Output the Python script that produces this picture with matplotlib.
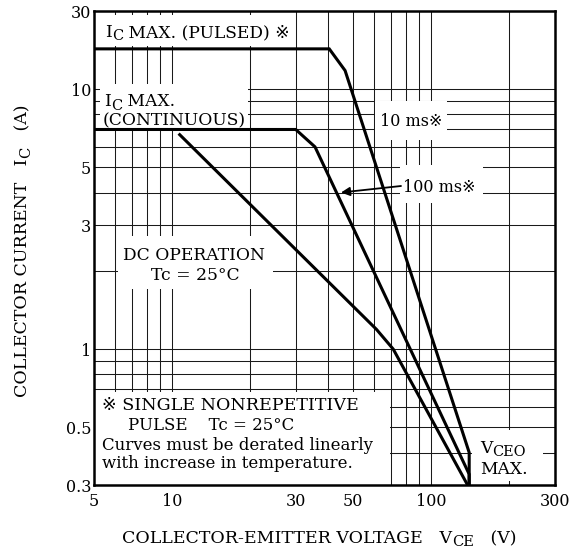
import numpy as np
import matplotlib
matplotlib.use("Agg")
import matplotlib.pyplot as plt
from matplotlib.patches import Rectangle
from matplotlib.ticker import LogLocator, NullFormatter

# --- Data ---
VCE_10MS = [5, 40.4, 46.5, 140, 140]
IC_10MS = [14.3, 14.3, 11.8, 0.40, 0.30]

VCE_100MS = [5, 30, 35.6, 140, 140]
IC_100MS = [7.0, 7.0, 6.0, 0.33, 0.30]

VCE_DC = [10.6, 61.5, 71.3, 138]
IC_DC = [6.75, 1.19, 1.0, 0.30]

X_TICKS = [5, 10, 30, 50, 100, 300]
X_TICK_LABELS = ["5", "10", "30", "50", "100", "300"]
# the source chart labels its top gridline (which sits at 20) as "30"
Y_TICKS = [0.3, 0.5, 1, 3, 5, 10, 20]
Y_TICK_LABELS = ["0.3", "0.5", "1", "3", "5", "10", "30"]

# --- Style ---
plt.rcParams["font.family"] = ["DejaVu Serif", "DejaVu Sans", "Noto Sans CJK JP"]
FS_TICK = 11.5
FS_BOX = 12.3
FS_NOTE = 12
FS_MS = 11.5
FS_AXIS = 12.5
SUB_SCALE = 0.85
SUB_DROP = 3.0  # px

W, H = 577, 550
AX_L, AX_R, AX_T, AX_B = 94, 555, 11, 485


def ax_xy(px, py):
    # pixel position in the figure (from top-left) -> axes fraction
    return (px - AX_L) / (AX_R - AX_L), (AX_B - py) / (AX_B - AX_T)


fig = plt.figure(figsize=(W / 100, H / 100), dpi=100)
ax = fig.add_axes([AX_L / W, 1 - AX_B / H, (AX_R - AX_L) / W, (AX_B - AX_T) / H])
renderer = fig.canvas.get_renderer()

ax.set_xscale("log")
ax.set_yscale("log")
ax.set_xlim(5, 300)
ax.set_ylim(0.3, 20)

ax.xaxis.set_minor_locator(LogLocator(base=10, subs=np.arange(2, 10)))
ax.yaxis.set_minor_locator(LogLocator(base=10, subs=np.arange(2, 10)))
ax.xaxis.set_minor_formatter(NullFormatter())
ax.yaxis.set_minor_formatter(NullFormatter())
ax.set_xticks(X_TICKS, X_TICK_LABELS)
ax.set_yticks(Y_TICKS, Y_TICK_LABELS)
ax.tick_params(which="both", length=0, labelsize=FS_TICK)
ax.tick_params(axis="x", pad=6)
ax.tick_params(axis="y", pad=2)
ax.grid(True, which="both", color="#1a1a1a", lw=0.75)

for s in ax.spines.values():
    s.set_linewidth(1.8)

# white label areas that break the grid (pixel boxes: x0, x1, top, bottom)
boxes = [
    (97, 292, 15, 46),
    (100, 248, 84, 130),
    (118, 273, 236, 289),
    (94, 390, 392, 485),
    (375, 447, 101, 140),
    (400, 483, 165, 203),
    (472, 543, 430, 481),
]
for x0, x1, t, b in boxes:
    ax0, ay0 = ax_xy(x0, b)
    ax1, ay1 = ax_xy(x1, t)
    ax.add_patch(Rectangle((ax0, ay0), ax1 - ax0, ay1 - ay0, transform=ax.transAxes,
                           facecolor="white", edgecolor="none", zorder=2))

# curves
for xs, ys in [(VCE_10MS, IC_10MS), (VCE_100MS, IC_100MS), (VCE_DC, IC_DC)]:
    ax.plot(xs, ys, color="black", lw=2.2, zorder=3, clip_on=False,
            solid_joinstyle="miter", solid_capstyle="butt")


def label(px, py, s, size, ha="left"):
    ax.text(*ax_xy(px, py), s, transform=ax.transAxes, ha=ha, va="center",
            fontsize=size, zorder=4)


def runs(px, base, parts, size, vertical=False):
    # text with lowered, slightly smaller subscripts; parts = [(text, is_sub), ...]
    # horizontal: px = left edge, base = baseline (pixels from top)
    # vertical: px = baseline x, base = bottom end of the text (pixels from top)
    pos = px if not vertical else H - base
    for s, sub in parts:
        fs = size * SUB_SCALE if sub else size
        drop = SUB_DROP if sub else 0
        if vertical:
            t = fig.text((px + drop) / W, pos / H, s, fontsize=fs, rotation=90,
                         rotation_mode="anchor", ha="left", va="baseline")
            pos = t.get_window_extent(renderer).y1
        else:
            t = fig.text(pos / W, 1 - (base + drop) / H, s, fontsize=fs,
                         ha="left", va="baseline")
            pos = t.get_window_extent(renderer).x1


runs(105, 37, [("I", False), ("C", True), (" MAX. (PULSED) \u203b", False)], FS_BOX)
runs(104, 106.5, [("I", False), ("C", True), (" MAX.", False)], FS_BOX)
label(103, 120.5, "(CONTINUOUS)", FS_BOX)
label(194, 255, "DC OPERATION", FS_BOX, ha="center")
label(195, 276, "Tc = 25°C", FS_BOX, ha="center")
label(102, 405, "\u203b SINGLE NONREPETITIVE", 12.6)
label(128, 425, "PULSE    Tc = 25°C", FS_NOTE)
label(102, 445, "Curves must be derated linearly", FS_NOTE)
label(102, 464, "with increase in temperature.", FS_NOTE)
label(380, 121, "10 ms\u203b", FS_MS)
label(403, 187, "100 ms\u203b", FS_MS)
runs(480, 453, [("V", False), ("CEO", True)], FS_BOX)
label(480, 469.5, "MAX.", FS_BOX)

ax.annotate("", xy=ax_xy(341, 192.5), xycoords="axes fraction",
            xytext=ax_xy(401, 186), textcoords="axes fraction",
            arrowprops=dict(arrowstyle="-|>", color="black", lw=1.3,
                            mutation_scale=13, shrinkA=0, shrinkB=0),
            zorder=5)

# axis titles
runs(122, 543, [("COLLECTOR-EMITTER VOLTAGE", False), ("   V", False),
                ("CE", True), ("   (V)", False)], FS_AXIS)
runs(27, 397, [("COLLECTOR CURRENT", False), ("   I", False),
               ("C", True), ("   (A)", False)], FS_AXIS, vertical=True)

fig.savefig("out.png", dpi=100)
